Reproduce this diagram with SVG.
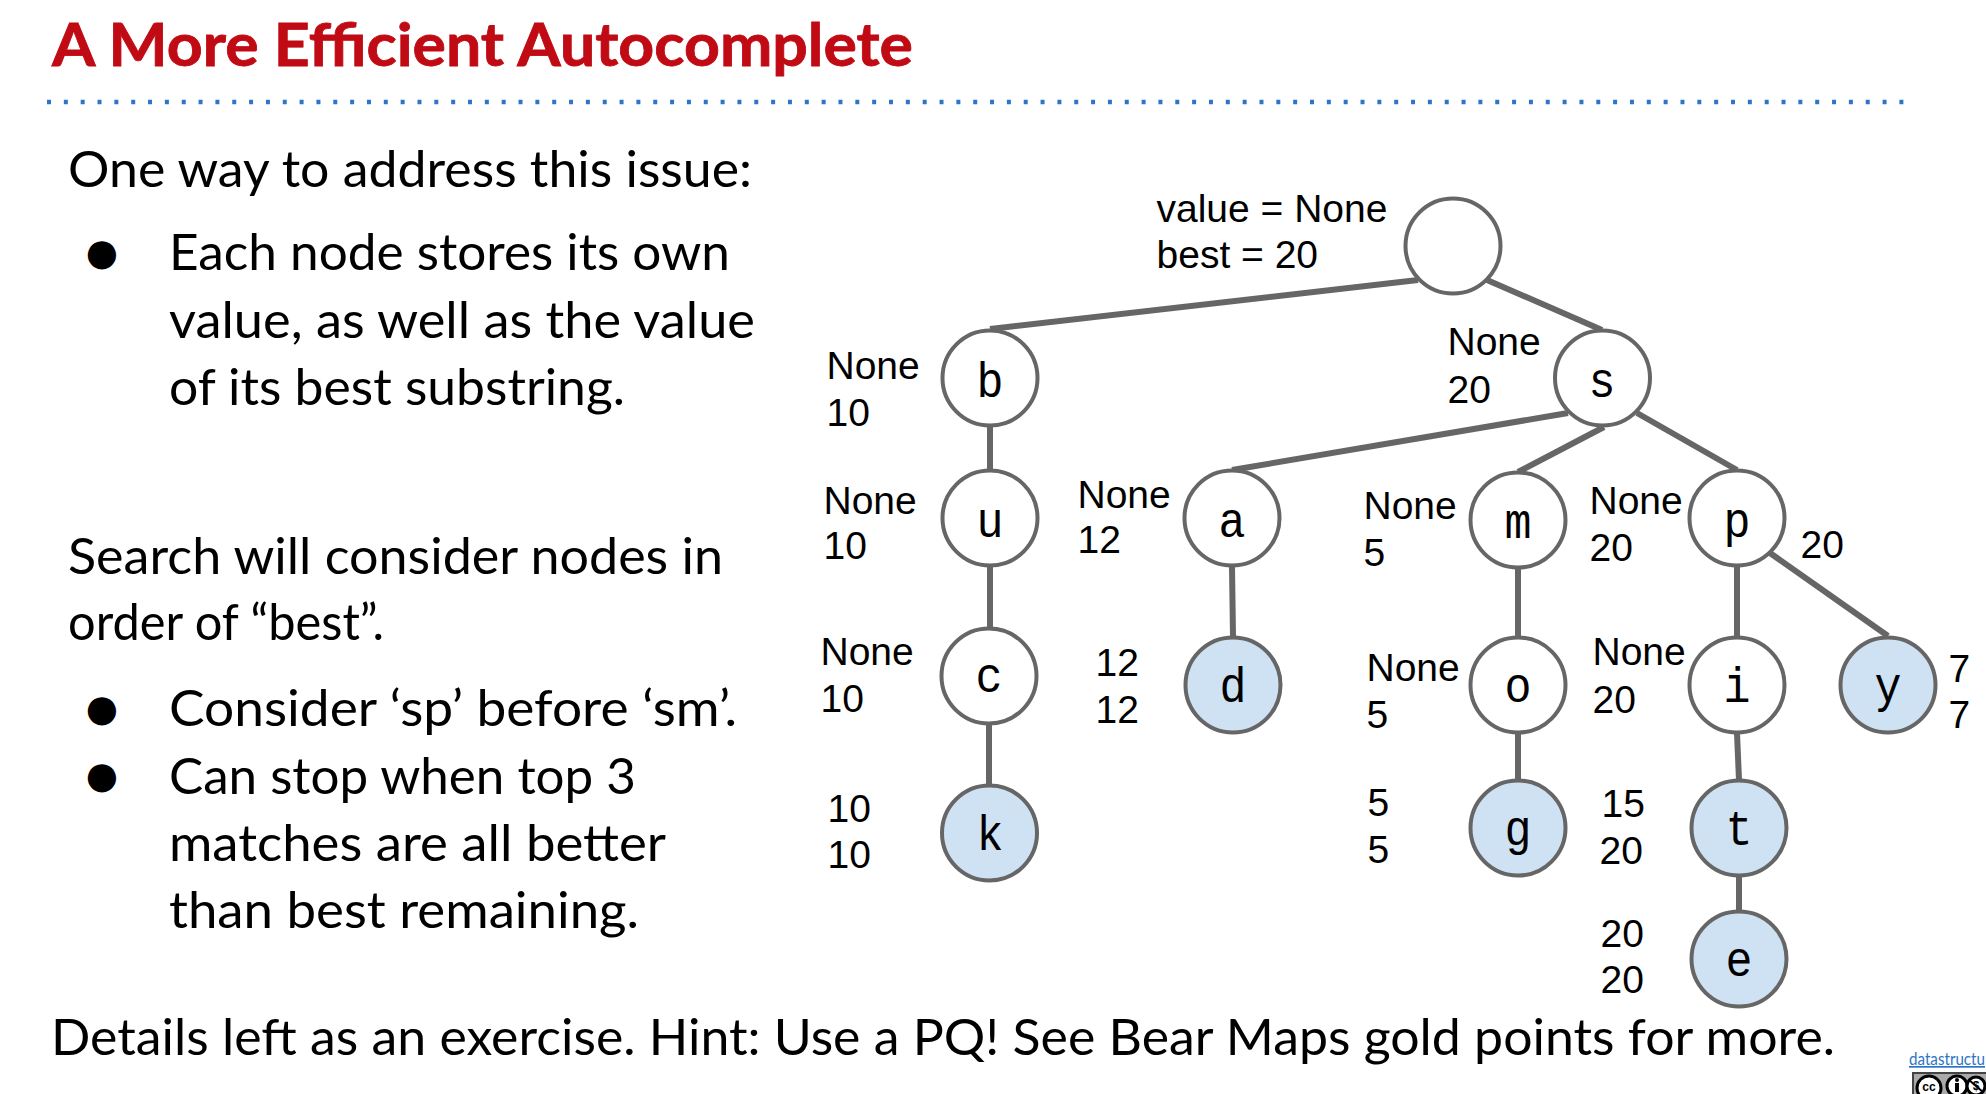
<svg xmlns="http://www.w3.org/2000/svg" width="1986" height="1094" viewBox="0 0 1986 1094">
<style>
.t{font-family:"Lato","Open Sans",sans-serif;font-size:50px;fill:#000}
.b{font-family:"DejaVu Sans",sans-serif;font-size:37px;fill:#000;text-anchor:middle}
.h{font-family:"Lato","Open Sans",sans-serif;font-size:59px;font-weight:700;fill:#c00a14;stroke:#c00a14;stroke-width:.8}
.l{font-family:"Liberation Sans",Arial,sans-serif;font-size:39px;fill:#000;transform:translateX(-1.5px)}
.n{fill:#fff;stroke:#666;stroke-width:4}
.f{fill:#cfe2f3;stroke:#666;stroke-width:4}
.c{font-family:"Liberation Mono","DejaVu Sans Mono",monospace;font-size:50px;fill:#000;text-anchor:middle}
.k{fill:#fff;stroke:#000;stroke-width:3}
#edges line{stroke:#666;stroke-width:6}
</style>
<rect width="1986" height="1094" fill="#fff"/>
<text class="h" x="52" y="66" textLength="861" lengthAdjust="spacingAndGlyphs">A More Efficient Autocomplete</text>
<line x1="47" y1="102" x2="1906" y2="102" stroke="#2e75c6" stroke-width="4.5" stroke-dasharray="4 12.84"/>
<text class="t" x="68" y="187" textLength="684" lengthAdjust="spacingAndGlyphs">One way to address this issue:</text>
<text class="b" x="102" y="265">●</text>
<text class="t" x="169" y="270" textLength="561" lengthAdjust="spacingAndGlyphs">Each node stores its own</text>
<text class="t" x="169" y="338" textLength="586" lengthAdjust="spacingAndGlyphs">value, as well as the value</text>
<text class="t" x="169" y="405" textLength="456" lengthAdjust="spacingAndGlyphs">of its best substring.</text>
<text class="t" x="68" y="574" textLength="655" lengthAdjust="spacingAndGlyphs">Search will consider nodes in</text>
<text class="t" x="68" y="640" textLength="316" lengthAdjust="spacingAndGlyphs">order of “best”.</text>
<text class="b" x="102" y="721">●</text>
<text class="t" x="169" y="726" textLength="568" lengthAdjust="spacingAndGlyphs">Consider ‘sp’ before ‘sm’.</text>
<text class="b" x="102" y="788">●</text>
<text class="t" x="169" y="794" textLength="467" lengthAdjust="spacingAndGlyphs">Can stop when top 3</text>
<text class="t" x="169" y="861" textLength="497" lengthAdjust="spacingAndGlyphs">matches are all better</text>
<text class="t" x="169" y="928" textLength="470" lengthAdjust="spacingAndGlyphs">than best remaining.</text>
<text class="t" x="51" y="1055" textLength="1784" lengthAdjust="spacingAndGlyphs">Details left as an exercise. Hint: Use a PQ! See Bear Maps gold points for more.</text>
<g id="edges">
<line x1="1418" y1="280" x2="990" y2="329"/>
<line x1="1487" y1="280" x2="1602" y2="330"/>
<line x1="1568" y1="413" x2="1232" y2="470"/>
<line x1="1604" y1="427" x2="1518" y2="472"/>
<line x1="1637" y1="413" x2="1737" y2="470"/>
<line x1="990" y1="427" x2="990" y2="470"/>
<line x1="990" y1="567" x2="990" y2="628"/>
<line x1="989" y1="725" x2="989" y2="785"/>
<line x1="1232" y1="567" x2="1233" y2="636"/>
<line x1="1518" y1="569" x2="1518" y2="636"/>
<line x1="1518" y1="733" x2="1518" y2="780"/>
<line x1="1737" y1="567" x2="1737" y2="636"/>
<line x1="1770" y1="553" x2="1888" y2="636"/>
<line x1="1737" y1="733" x2="1739" y2="780"/>
<line x1="1739" y1="877" x2="1739" y2="910"/>
</g>
<g id="node-root"><circle class="n" cx="1453" cy="246" r="47.500"/><text class="l" x="1158" y="222">value = None</text><text class="l" x="1158" y="268">best = 20</text></g>
<g id="node-b"><circle class="n" cx="990" cy="378" r="47.500"/><text class="c" x="990" y="397" textLength="27" lengthAdjust="spacingAndGlyphs">b</text><text class="l" x="828" y="379">None</text><text class="l" x="828" y="426">10</text></g>
<g id="node-s"><circle class="n" cx="1602.500" cy="378" r="47.500"/><text class="c" x="1602" y="397" textLength="27" lengthAdjust="spacingAndGlyphs">s</text><text class="l" x="1449" y="355">None</text><text class="l" x="1449" y="403">20</text></g>
<g id="node-u"><circle class="n" cx="990" cy="518" r="47.500"/><text class="c" x="990" y="537" textLength="27" lengthAdjust="spacingAndGlyphs">u</text><text class="l" x="825" y="514">None</text><text class="l" x="825" y="559">10</text></g>
<g id="node-a"><circle class="n" cx="1232" cy="518" r="47.500"/><text class="c" x="1232" y="537" textLength="27" lengthAdjust="spacingAndGlyphs">a</text><text class="l" x="1079" y="508">None</text><text class="l" x="1079" y="553">12</text></g>
<g id="node-m"><circle class="n" cx="1518" cy="520" r="47.500"/><text class="c" x="1518" y="538" textLength="27" lengthAdjust="spacingAndGlyphs">m</text><text class="l" x="1365" y="519">None</text><text class="l" x="1365" y="566">5</text></g>
<g id="node-p"><circle class="n" cx="1737" cy="518" r="47.500"/><text class="c" x="1737" y="537" textLength="27" lengthAdjust="spacingAndGlyphs">p</text><text class="l" x="1591" y="514">None</text><text class="l" x="1591" y="561">20</text><text class="l" x="1802" y="558">20</text></g>
<g id="node-c"><circle class="n" cx="989" cy="676" r="47.500"/><text class="c" x="989" y="692" textLength="27" lengthAdjust="spacingAndGlyphs">c</text><text class="l" x="822" y="665">None</text><text class="l" x="822" y="712">10</text></g>
<g id="node-d"><circle class="f" cx="1233" cy="685" r="47.500"/><text class="c" x="1233" y="702" textLength="27" lengthAdjust="spacingAndGlyphs">d</text><text class="l" x="1097" y="676">12</text><text class="l" x="1097" y="723">12</text></g>
<g id="node-o"><circle class="n" cx="1518" cy="685" r="47.500"/><text class="c" x="1518" y="702" textLength="27" lengthAdjust="spacingAndGlyphs">o</text><text class="l" x="1368" y="681">None</text><text class="l" x="1368" y="728">5</text></g>
<g id="node-i"><circle class="n" cx="1737" cy="685" r="47.500"/><text class="c" x="1737" y="702" textLength="27" lengthAdjust="spacingAndGlyphs">i</text><text class="l" x="1594" y="665">None</text><text class="l" x="1594" y="713">20</text></g>
<g id="node-y"><circle class="f" cx="1888" cy="685" r="47.500"/><text class="c" x="1888" y="702" textLength="27" lengthAdjust="spacingAndGlyphs">y</text><text class="l" x="1950" y="682">7</text><text class="l" x="1950" y="728">7</text></g>
<g id="node-k"><circle class="f" cx="989.500" cy="833" r="47.500"/><text class="c" x="990" y="850" textLength="27" lengthAdjust="spacingAndGlyphs">k</text><text class="l" x="829" y="822">10</text><text class="l" x="829" y="868">10</text></g>
<g id="node-g"><circle class="f" cx="1518" cy="828" r="47.500"/><text class="c" x="1518" y="845" textLength="27" lengthAdjust="spacingAndGlyphs">g</text><text class="l" x="1369" y="816">5</text><text class="l" x="1369" y="863">5</text></g>
<g id="node-t"><circle class="f" cx="1739" cy="828" r="47.500"/><text class="c" x="1739" y="845" textLength="27" lengthAdjust="spacingAndGlyphs">t</text><text class="l" x="1603" y="817">15</text><text class="l" x="1601" y="864">20</text></g>
<g id="node-e"><circle class="f" cx="1739" cy="959" r="47.500"/><text class="c" x="1739" y="976" textLength="27" lengthAdjust="spacingAndGlyphs">e</text><text class="l" x="1602" y="947">20</text><text class="l" x="1602" y="993">20</text></g>
<text x="1909" y="1065" font-family="Lato,sans-serif" font-size="17" fill="#2e75c6" text-decoration="underline" textLength="76" lengthAdjust="spacingAndGlyphs">datastructu</text>
<rect x="1913" y="1073" width="80" height="30" fill="#aaa" stroke="#444" stroke-width="2"/>
<circle class="k" cx="1929" cy="1088" r="12"/>
<text x="1929" y="1091" font-family="Liberation Sans,sans-serif" font-weight="700" font-size="12" text-anchor="middle">cc</text>
<circle class="k" cx="1957" cy="1086" r="10"/>
<circle cx="1957" cy="1080" r="2"/>
<rect x="1955" y="1083" width="4" height="9"/>
<circle class="k" cx="1976" cy="1086" r="9"/>
<text x="1976" y="1090" font-family="Liberation Sans,sans-serif" font-weight="700" font-size="12" text-anchor="middle">$</text>
<line x1="1969" y1="1080" x2="1983" y2="1092" stroke="#000" stroke-width="2"/>
</svg>
